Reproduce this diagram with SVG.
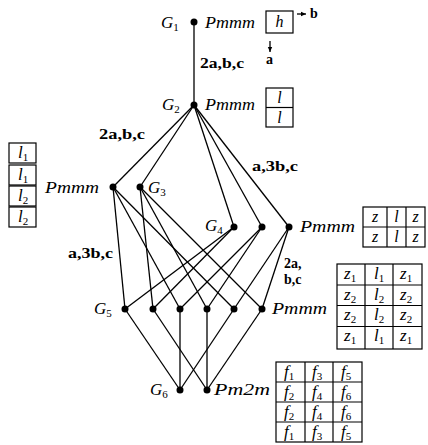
<svg xmlns="http://www.w3.org/2000/svg" width="428" height="445" viewBox="0 0 428 445">
<style>
.it{font-family:"Liberation Serif",serif;font-style:italic;font-size:17px;fill:#000}
.sub{font-family:"Liberation Serif",serif;font-size:11px;fill:#000}
.bd{font-family:"Liberation Serif",serif;font-weight:bold;font-size:14px;fill:#000}
.cell{font-family:"Liberation Serif",serif;font-style:italic;font-size:16px;fill:#000;text-anchor:middle}
.box{fill:none;stroke:#000;stroke-width:1.2}
.e{stroke:#000;stroke-width:1.3;fill:none}
.dot{fill:#000}
</style>
<defs>
<marker id="ah" markerWidth="6" markerHeight="6" refX="5" refY="3" orient="auto" markerUnits="userSpaceOnUse">
<path d="M0,0.8 L5,3 L0,5.2 Z" fill="#000"/>
</marker>
</defs>
<g id="connectors">
<line class="e" x1="194" y1="22" x2="194" y2="105"/>
<line class="e" x1="194" y1="105" x2="113" y2="187"/>
<line class="e" x1="194" y1="105" x2="140" y2="187"/>
<line class="e" x1="194" y1="105" x2="234" y2="227"/>
<line class="e" x1="194" y1="105" x2="262" y2="227"/>
<line class="e" x1="194" y1="105" x2="289" y2="227"/>
<line class="e" x1="113" y1="187" x2="125" y2="309"/>
<line class="e" x1="113" y1="187" x2="180" y2="309"/>
<line class="e" x1="113" y1="187" x2="234" y2="309"/>
<line class="e" x1="140" y1="187" x2="153" y2="309"/>
<line class="e" x1="140" y1="187" x2="207" y2="309"/>
<line class="e" x1="140" y1="187" x2="262" y2="309"/>
<line class="e" x1="234" y1="227" x2="125" y2="309"/>
<line class="e" x1="234" y1="227" x2="153" y2="309"/>
<line class="e" x1="262" y1="227" x2="180" y2="309"/>
<line class="e" x1="262" y1="227" x2="207" y2="309"/>
<line class="e" x1="289" y1="227" x2="234" y2="309"/>
<line class="e" x1="289" y1="227" x2="262" y2="309"/>
<line class="e" x1="125" y1="309" x2="180" y2="390"/>
<line class="e" x1="180" y1="309" x2="180" y2="390"/>
<line class="e" x1="234" y1="309" x2="180" y2="390"/>
<line class="e" x1="153" y1="309" x2="207" y2="390"/>
<line class="e" x1="207" y1="309" x2="207" y2="390"/>
<line class="e" x1="262" y1="309" x2="207" y2="390"/>
<text class="bd" x="200" y="68" textLength="44" lengthAdjust="spacingAndGlyphs">2a,b,c</text>
<text class="bd" x="99" y="139" textLength="46" lengthAdjust="spacingAndGlyphs">2a,b,c</text>
<text class="bd" x="252" y="171" textLength="46" lengthAdjust="spacingAndGlyphs">a,3b,c</text>
<text class="bd" x="68" y="258" textLength="45" lengthAdjust="spacingAndGlyphs">a,3b,c</text>
<text class="bd" x="284" y="268">2a,</text>
<text class="bd" x="284" y="284">b,c</text>
</g>
<g id="G1">
<circle class="dot" cx="194" cy="22" r="3.5"/>
<text class="it" x="161" y="28">G<tspan class="sub" dy="3" font-style="normal">1</tspan></text>
<text class="it" x="205" y="28" textLength="50" lengthAdjust="spacingAndGlyphs">Pmmm</text>
<rect class="box" x="266" y="11" width="27" height="22"/>
<text class="cell" x="279.5" y="27">h</text>
<line class="e" x1="297" y1="14" x2="306" y2="14" marker-end="url(#ah)" stroke-width="1"/>
<text class="bd" x="310" y="18">b</text>
<line class="e" x1="270" y1="41" x2="270" y2="52" marker-end="url(#ah)" stroke-width="1"/>
<text class="bd" x="266" y="64">a</text>
</g>
<g id="G2">
<circle class="dot" cx="194" cy="105" r="3.5"/>
<text class="it" x="162" y="110">G<tspan class="sub" dy="3" font-style="normal">2</tspan></text>
<text class="it" x="205" y="110" textLength="50" lengthAdjust="spacingAndGlyphs">Pmmm</text>
<rect class="box" x="266" y="88" width="27" height="39"/>
<line class="box" x1="266" y1="107.5" x2="293" y2="107.5"/>
<text class="cell" x="279.5" y="103">l</text>
<text class="cell" x="279.5" y="123">l</text>
</g>
<g id="Pmmm3">
<circle class="dot" cx="113" cy="187" r="3.5"/>
<text class="it" x="45" y="193" textLength="54" lengthAdjust="spacingAndGlyphs">Pmmm</text>
<rect class="box" x="9" y="143" width="27" height="20"/>
<rect class="box" x="9" y="165" width="27" height="20"/>
<rect class="box" x="9" y="186" width="27" height="20"/>
<rect class="box" x="9" y="207" width="27" height="20"/>
<text class="it" x="18" y="158">l<tspan class="sub" dy="3" font-style="normal">1</tspan></text>
<text class="it" x="18" y="180">l<tspan class="sub" dy="3" font-style="normal">1</tspan></text>
<text class="it" x="18" y="201">l<tspan class="sub" dy="3" font-style="normal">2</tspan></text>
<text class="it" x="18" y="222">l<tspan class="sub" dy="3" font-style="normal">2</tspan></text>
</g>
<g id="G3">
<circle class="dot" cx="140" cy="187" r="3.5"/>
<text class="it" x="148" y="193">G<tspan class="sub" dy="3" font-style="normal">3</tspan></text>
</g>
<g id="G4">
<circle class="dot" cx="234" cy="227" r="3.5"/>
<text class="it" x="205" y="231">G<tspan class="sub" dy="3" font-style="normal">4</tspan></text>
</g>
<g id="N4b">
<circle class="dot" cx="262" cy="227" r="3.5"/>
</g>
<g id="Pmmm4">
<circle class="dot" cx="289" cy="227" r="3.5"/>
<text class="it" x="300" y="232" textLength="55" lengthAdjust="spacingAndGlyphs">Pmmm</text>
<rect class="box" x="363" y="207" width="62" height="40"/>
<line class="box" x1="363" y1="227" x2="425" y2="227"/>
<line class="box" x1="387" y1="207" x2="387" y2="247"/>
<line class="box" x1="406" y1="207" x2="406" y2="247"/>
<text class="cell" x="375" y="222">z</text>
<text class="cell" x="396.5" y="222">l</text>
<text class="cell" x="415.5" y="222">z</text>
<text class="cell" x="375" y="242">z</text>
<text class="cell" x="396.5" y="242">l</text>
<text class="cell" x="415.5" y="242">z</text>
</g>
<g id="G5">
<circle class="dot" cx="125" cy="309" r="3.5"/>
<text class="it" x="94" y="314">G<tspan class="sub" dy="3" font-style="normal">5</tspan></text>
</g>
<g id="N5b"><circle class="dot" cx="153" cy="309" r="3.5"/></g>
<g id="N5c"><circle class="dot" cx="180" cy="309" r="3.5"/></g>
<g id="N5d"><circle class="dot" cx="207" cy="309" r="3.5"/></g>
<g id="N5e"><circle class="dot" cx="234" cy="309" r="3.5"/></g>
<g id="Pmmm5">
<circle class="dot" cx="262" cy="309" r="3.5"/>
<text class="it" x="272" y="314" textLength="55" lengthAdjust="spacingAndGlyphs">Pmmm</text>
<rect class="box" x="337" y="264" width="85" height="85"/>
<line class="box" x1="337" y1="285" x2="422" y2="285"/>
<line class="box" x1="337" y1="305.5" x2="422" y2="305.5"/>
<line class="box" x1="337" y1="326.5" x2="422" y2="326.5"/>
<line class="box" x1="365" y1="264" x2="365" y2="349"/>
<line class="box" x1="393" y1="264" x2="393" y2="349"/>
<text class="it" x="344" y="279">z<tspan class="sub" dy="3" font-style="normal">1</tspan></text>
<text class="it" x="374" y="279">l<tspan class="sub" dy="3" font-style="normal">1</tspan></text>
<text class="it" x="400" y="279">z<tspan class="sub" dy="3" font-style="normal">1</tspan></text>
<text class="it" x="344" y="300">z<tspan class="sub" dy="3" font-style="normal">2</tspan></text>
<text class="it" x="374" y="300">l<tspan class="sub" dy="3" font-style="normal">2</tspan></text>
<text class="it" x="400" y="300">z<tspan class="sub" dy="3" font-style="normal">2</tspan></text>
<text class="it" x="344" y="320">z<tspan class="sub" dy="3" font-style="normal">2</tspan></text>
<text class="it" x="374" y="320">l<tspan class="sub" dy="3" font-style="normal">2</tspan></text>
<text class="it" x="400" y="320">z<tspan class="sub" dy="3" font-style="normal">2</tspan></text>
<text class="it" x="344" y="341">z<tspan class="sub" dy="3" font-style="normal">1</tspan></text>
<text class="it" x="374" y="341">l<tspan class="sub" dy="3" font-style="normal">1</tspan></text>
<text class="it" x="400" y="341">z<tspan class="sub" dy="3" font-style="normal">1</tspan></text>
</g>
<g id="G6">
<circle class="dot" cx="180" cy="390" r="3.5"/>
<text class="it" x="150" y="395">G<tspan class="sub" dy="3" font-style="normal">6</tspan></text>
</g>
<g id="Pm2m">
<circle class="dot" cx="207" cy="390" r="3.5"/>
<text class="it" x="214" y="395" textLength="56" lengthAdjust="spacingAndGlyphs">Pm2m</text>
<rect class="box" x="276" y="362" width="86" height="80"/>
<line class="box" x1="276" y1="382" x2="362" y2="382"/>
<line class="box" x1="276" y1="402" x2="362" y2="402"/>
<line class="box" x1="276" y1="422" x2="362" y2="422"/>
<line class="box" x1="305" y1="362" x2="305" y2="442"/>
<line class="box" x1="333" y1="362" x2="333" y2="442"/>
<text class="it" x="284" y="377">f<tspan class="sub" dy="3" font-style="normal">1</tspan></text>
<text class="it" x="312" y="377">f<tspan class="sub" dy="3" font-style="normal">3</tspan></text>
<text class="it" x="341" y="377">f<tspan class="sub" dy="3" font-style="normal">5</tspan></text>
<text class="it" x="284" y="397">f<tspan class="sub" dy="3" font-style="normal">2</tspan></text>
<text class="it" x="312" y="397">f<tspan class="sub" dy="3" font-style="normal">4</tspan></text>
<text class="it" x="341" y="397">f<tspan class="sub" dy="3" font-style="normal">6</tspan></text>
<text class="it" x="284" y="417">f<tspan class="sub" dy="3" font-style="normal">2</tspan></text>
<text class="it" x="312" y="417">f<tspan class="sub" dy="3" font-style="normal">4</tspan></text>
<text class="it" x="341" y="417">f<tspan class="sub" dy="3" font-style="normal">6</tspan></text>
<text class="it" x="284" y="437">f<tspan class="sub" dy="3" font-style="normal">1</tspan></text>
<text class="it" x="312" y="437">f<tspan class="sub" dy="3" font-style="normal">3</tspan></text>
<text class="it" x="341" y="437">f<tspan class="sub" dy="3" font-style="normal">5</tspan></text>
</g>
</svg>
